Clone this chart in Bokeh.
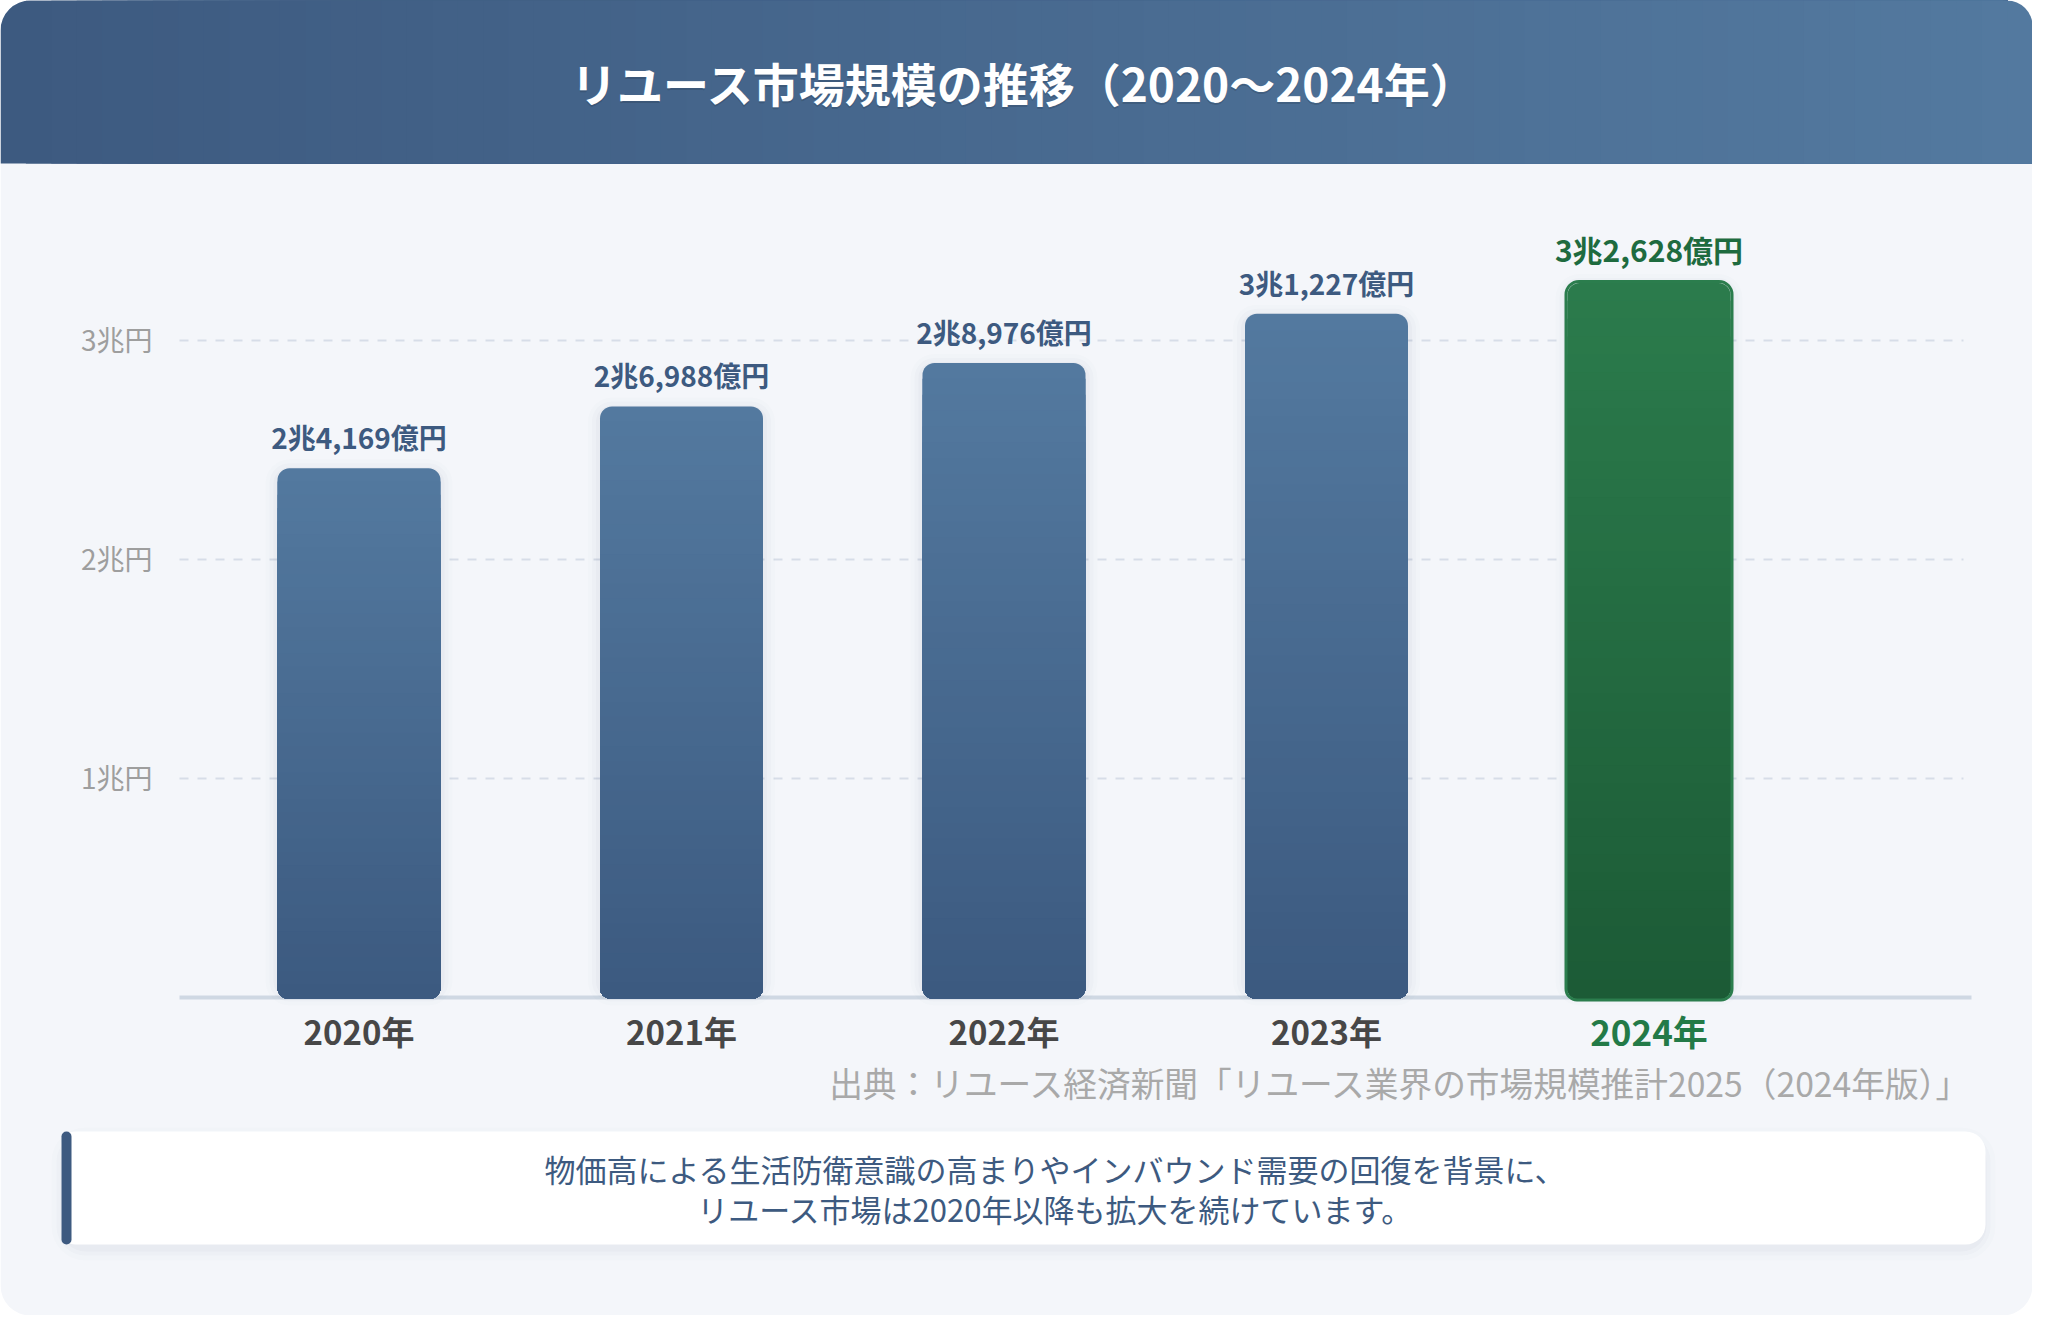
from bokeh.plotting import figure
from bokeh.models import Range1d, ColumnDataSource
from bokeh.embed import file_html
from bokeh.resources import INLINE
from bokeh.core.properties import value

# ---------------- data ----------------
years = ["2020年", "2021年", "2022年", "2023年", "2024年"]
market_oku = [24169, 26988, 28976, 31227, 32628]          # 億円
value_labels = ["2兆4,169億円", "2兆6,988億円", "2兆8,976億円", "3兆1,227億円", "3兆2,628億円"]
y_ticks = [1, 2, 3]                                        # 兆円
y_tick_labels = ["1兆円", "2兆円", "3兆円"]
title_text = "リユース市場規模の推移（2020〜2024年）"
source_text = "出典：リユース経済新聞「リユース業界の市場規模推計2025（2024年版）」"
note_lines = ["物価高による生活防衛意識の高まりやインバウンド需要の回復を背景に、",
              "リユース市場は2020年以降も拡大を続けています。"]

# ---------------- layout ----------------
W, H = 2032, 1315
FONT = value("Noto Sans CJK JP")

def fx(r):
    return r

def fy(r):
    return H - r

PX_CAT = 322.5
CAT0 = fx(358.5)
PX_VAL = 219.0
VAL0 = fy(997)

cat_start = -CAT0 / PX_CAT
val_start = -VAL0 / PX_VAL

def hex2rgb(h):
    h = h.lstrip("#")
    return tuple(int(h[i:i + 2], 16) for i in (0, 2, 4))

def lerp(c1, c2, t):
    a, b = hex2rgb(c1), hex2rgb(c2)
    return "#%02x%02x%02x" % tuple(int(round(a[i] + (b[i] - a[i]) * t)) for i in range(3))

p = figure(width=W, height=H, x_range=Range1d(0, W), y_range=Range1d(0, H),
           x_axis_type=None, y_axis_type=None, output_backend="svg",
           toolbar_location=None, min_border=0, outline_line_color=None,
           background_fill_color="white", border_fill_color="white")
p.extra_x_ranges = {"cat": Range1d(cat_start, cat_start + W / PX_CAT)}
p.extra_y_ranges = {"val": Range1d(val_start, val_start + H / PX_VAL)}

# card
p.quad(left=[0], right=[W], bottom=[0], top=[H], fill_color="#f4f6fa",
       line_color=None, border_radius=30)

# header gradient
NH = 80
hl = [W * k / NH for k in range(NH)]
hc = [lerp("#3d5a80", "#53799f", k / (NH - 1)) for k in range(NH)]
hb = fy(163)
p.quad(left=hl[:1], right=[W], bottom=[hb], top=[H], fill_color=hc[0],
       line_color=None, border_radius=(30, 30, 0, 0))
p.quad(left=hl[1:], right=[W] * (NH - 1), bottom=[hb] * (NH - 1), top=[H] * (NH - 1),
       fill_color=hc[1:], line_color=None, border_radius=(0, 30, 0, 0))

# title
p.text(x=[1024], y=[fy(81) - 2], text=[title_text], text_font=FONT,
       text_font_style="bold", text_font_size="46px", text_color="black",
       text_alpha=0.15, text_align="center", text_baseline="middle")
p.text(x=[1024], y=[fy(81)], text=[title_text], text_font=FONT,
       text_font_style="bold", text_font_size="46px", text_color="white",
       text_align="center", text_baseline="middle")

# grid lines and y labels
p.segment(x0=[fx(179)] * len(y_ticks), x1=[fx(1963)] * len(y_ticks), y0=y_ticks, y1=y_ticks,
          y_range_name="val", line_color="#d7dde8", line_width=2, line_dash="9 9")
p.text(x=[fx(152)] * len(y_ticks), y=[t + 2 / PX_VAL for t in y_ticks], text=y_tick_labels,
       y_range_name="val", text_font=FONT, text_font_size="28px", text_color="#9e9e9e",
       text_align="right", text_baseline="middle")

# baseline
p.segment(x0=[fx(179)], x1=[fx(1971)], y0=[0], y1=[0], y_range_name="val",
          line_color="#cfd8e3", line_width=4)

# bars
vals = [v / 10000 for v in market_oku]
xs = list(range(len(years)))
hw = 81.5 / PX_CAT
hl_colors = ("#53799f", "#3c5a80")
hi_colors = ("#2b7b4c", "#1c5b36")

# soft shadows
for e, a in [(12, 0.012), (8, 0.018), (4, 0.025)]:
    ex = e / PX_CAT
    ey = e / PX_VAL
    p.quad(left=[x - hw - ex for x in xs], right=[x + hw + ex for x in xs],
           bottom=[-(e - 4) / PX_VAL] * len(xs), top=[v + ey - 3 / PX_VAL for v in vals],
           x_range_name="cat", y_range_name="val", fill_color="#2a3b55",
           fill_alpha=a, line_color=None, border_radius=12 + e)

NS = 40
for k in range(NS):
    t = k / (NS - 1)
    cols = []
    for i in xs:
        c0, c1 = hi_colors if i == len(xs) - 1 else hl_colors
        cols.append(lerp(c0, c1, t))
    src = ColumnDataSource(dict(left=[x - hw for x in xs], right=[x + hw for x in xs],
                                top=[v * (1 - k / NS) for v in vals],
                                bottom=[-1 / PX_VAL] * len(xs), color=cols))
    p.quad(left="left", right="right", top="top", bottom="bottom", source=src,
           x_range_name="cat", y_range_name="val", fill_color="color", line_color=None,
           border_radius=(12, 12, 10, 10) if k == 0 else (0, 0, 10, 10))

# highlight outline for last bar
li = len(xs) - 1
p.quad(left=[xs[li] - hw - 1.5 / PX_CAT], right=[xs[li] + hw + 1.5 / PX_CAT],
       top=[vals[li] + 1.5 / PX_VAL], bottom=[-2.5 / PX_VAL],
       x_range_name="cat", y_range_name="val", fill_color=None,
       line_color="#2b7d4d", line_width=3, border_radius=(13, 13, 11, 11))

# value labels
lab_y = [v + 31 / PX_VAL for v in vals]
p.text(x=xs[:-1], y=lab_y[:-1], text=value_labels[:-1], x_range_name="cat", y_range_name="val",
       text_font=FONT, text_font_style="bold", text_font_size="28px", text_color="#3d5a80",
       text_align="center", text_baseline="middle")
p.text(x=xs[-1:], y=[lab_y[-1] + 3 / PX_VAL], text=value_labels[-1:], x_range_name="cat",
       y_range_name="val", text_font=FONT, text_font_style="bold", text_font_size="30px",
       text_color="#1e6b3f", text_align="center", text_baseline="middle")

# x labels
yl = -33 / PX_VAL
p.text(x=xs[:-1], y=[yl] * (len(xs) - 1), text=years[:-1], x_range_name="cat", y_range_name="val",
       text_font=FONT, text_font_style="bold", text_font_size="33px", text_color="#474747",
       text_align="center", text_baseline="middle")
p.text(x=xs[-1:], y=[yl], text=years[-1:], x_range_name="cat", y_range_name="val",
       text_font=FONT, text_font_style="bold", text_font_size="35px", text_color="#237a47",
       text_align="center", text_baseline="middle")

# source
p.text(x=[fx(1972)], y=[fy(1082)], text=[source_text], text_font=FONT,
       text_font_size="33.7px", text_color="#a9a9a9", text_align="right", text_baseline="middle")

# note box
nl, nr, nt, nb = fx(61), fx(1985), fy(1131), fy(1244)
for e, a in [(14, 0.012), (9, 0.018), (5, 0.025)]:
    p.quad(left=[nl - e + 4], right=[nr + e - 4], top=[nt + e - 10], bottom=[nb - e - 2],
           fill_color="#2a3b55", fill_alpha=a, line_color=None, border_radius=20 + e)
p.quad(left=[nl], right=[nr], top=[nt], bottom=[nb], fill_color="white",
       line_color=None, border_radius=(14, 20, 20, 14))
p.quad(left=[nl], right=[nl + 10], top=[nt], bottom=[nb], fill_color="#3d5a80",
       line_color=None, border_radius=5)
p.text(x=[fx(1055)] * 2, y=[fy(1168), fy(1208)], text=note_lines, text_font=FONT,
       text_font_size="31px", text_color="#3d5a80", text_align="center", text_baseline="middle")

open("out.html", "w").write(file_html(p, INLINE))
